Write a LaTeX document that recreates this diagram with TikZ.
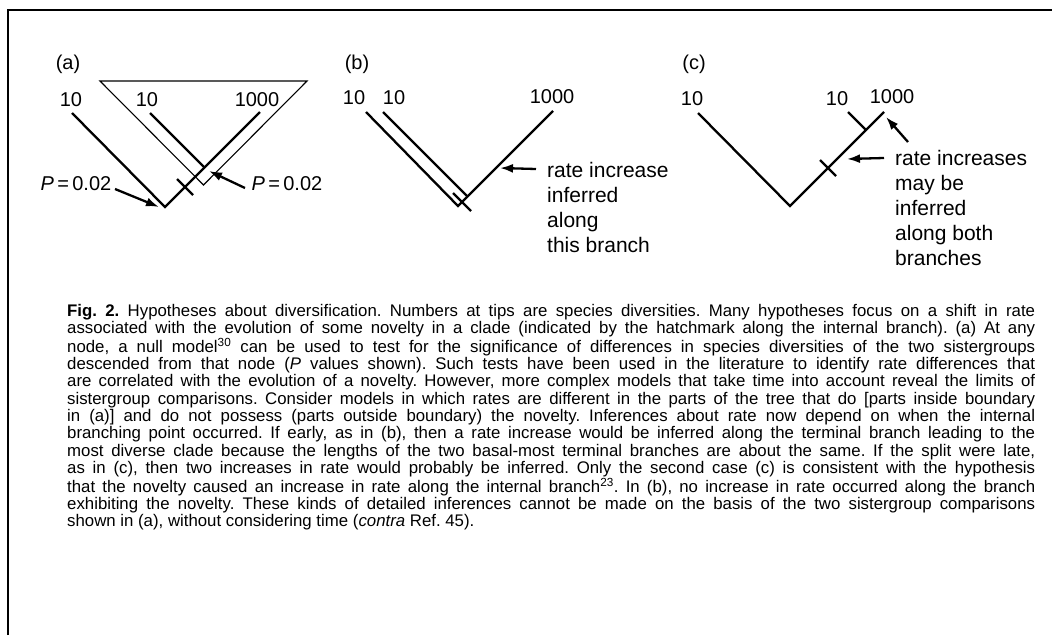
\documentclass[tikz,border=0pt]{standalone}
\usepackage{fontspec}
\setmainfont{Liberation Sans}
\usetikzlibrary{arrows.meta}
\begin{document}
\begin{tikzpicture}[x=1pt,y=-1pt,
  branch/.style={line width=2.3pt},
  thinline/.style={line width=1.1pt},
  hatchmark/.style={line width=2.3pt},
  pointer/.style={line width=2.3pt,-{Latex[length=13pt,width=9pt]}},
  tiplabel/.style={font=\fontsize{20}{22}\selectfont, inner sep=0pt, anchor=base},
  note/.style={font=\fontsize{21}{25}\selectfont, inner sep=0pt, anchor=base west, align=left},
  frameline/.style={line width=1.8pt}]
\useasboundingbox (0,0) rectangle (1052,635);
\draw[frameline] (8,635) |- (1052,10);

% ---------- panel (a)
\node[tiplabel] (pa) at (68,69) {(a)};
\node[tiplabel] (a1) at (71,106) {10};
\node[tiplabel] (a2) at (147,106) {10};
\node[tiplabel] (a3) at (257,106) {1000};
\coordinate (aL) at (72,113);
\coordinate (aM) at (150,113);
\coordinate (aR) at (260,112);
\coordinate (aRoot) at (165,207);
\coordinate (aJ) at (204.5,167.5);
\coordinate (t1) at (100,81);
\coordinate (t2) at (307,81);
\coordinate (t3) at (203.5,185);
\draw[thinline] (t1) -- (t2) -- (t3) -- cycle;
\draw[branch] (aL) -- (aRoot) -- (aR);
\draw[branch] (aM) -- (aJ);
\coordinate (ah1) at (177,179);
\coordinate (ah2) at (193,195);
\draw[hatchmark] (ah1) -- (ah2);
\node[tiplabel] (pL) at (76,190) {\textit{P}\,=\,0.02};
\node[tiplabel] (pR) at (287,190) {\textit{P}\,=\,0.02};
\coordinate (pLs) at (115,189);
\coordinate (pLe) at (159,207);
\coordinate (pRs) at (245,188);
\coordinate (pRe) at (209,171);
\draw[pointer] (pLs) -- (pLe);
\draw[pointer] (pRs) -- (pRe);

% ---------- panel (b)
\node[tiplabel] (pb) at (357,69) {(b)};
\node[tiplabel] (b1) at (354,104) {10};
\node[tiplabel] (b2) at (394,104) {10};
\node[tiplabel] (b3) at (552,103) {1000};
\coordinate (bL) at (366,112);
\coordinate (bM) at (383,112);
\coordinate (bR) at (553,111);
\coordinate (bRoot) at (458,206);
\coordinate (bJ) at (467.5,196.5);
\draw[branch] (bL) -- (bRoot) -- (bR);
\draw[branch] (bM) -- (bJ);
\coordinate (bh1) at (453,193);
\coordinate (bh2) at (471,211);
\draw[hatchmark] (bh1) -- (bh2);
\node[note] (bn) at (547,252) {rate increase\\inferred\\along\\this branch};
\coordinate (bas) at (536,169);
\coordinate (bae) at (500,168);
\draw[pointer] (bas) -- (bae);

% ---------- panel (c)
\node[tiplabel] (pc) at (694,69) {(c)};
\node[tiplabel] (c1) at (692,105) {10};
\node[tiplabel] (c2) at (837,105) {10};
\node[tiplabel] (c3) at (892,103) {1000};
\coordinate (cL) at (698,113);
\coordinate (cM) at (848,112);
\coordinate (cR) at (884,112);
\coordinate (cRoot) at (790,206);
\coordinate (cJ) at (866,130);
\draw[branch] (cL) -- (cRoot) -- (cR);
\draw[branch] (cM) -- (cJ);
\coordinate (ch1) at (820,160);
\coordinate (ch2) at (836,176);
\draw[hatchmark] (ch1) -- (ch2);
\node[note] (cn) at (895,265) {rate increases\\may be\\inferred\\along both\\branches};
\coordinate (cas) at (884,158);
\coordinate (cae) at (847,159);
\coordinate (cbs) at (908,142);
\coordinate (cbe) at (886,117);
\draw[pointer] (cas) -- (cae);
\draw[pointer] (cbs) -- (cbe);

% ---------- caption
\node[anchor=base west, inner sep=0pt, text width=968pt, align=justify,
      font=\fontsize{16.8}{17.3}\selectfont] (cap) at (67,316) {%
\frenchspacing\tolerance=10000\emergencystretch=0pt\hyphenpenalty=10000
\textbf{Fig. 2.} Hypotheses about diversification. Numbers at tips are species diversities. Many hypotheses focus on a shift in rate\linebreak
associated with the evolution of some novelty in a clade (indicated by the hatchmark along the internal branch). (a) At any\linebreak
node, a null model\textsuperscript{30} can be used to test for the significance of differences in species diversities of the two sistergroups\linebreak
descended from that node (\textit{P} values shown). Such tests have been used in the literature to identify rate differences that\linebreak
are correlated with the evolution of a novelty. However, more complex models that take time into account reveal the limits of\linebreak
sistergroup comparisons. Consider models in which rates are different in the parts of the tree that do [parts inside boundary\linebreak
in (a)] and do not possess (parts outside boundary) the novelty. Inferences about rate now depend on when the internal\linebreak
branching point occurred. If early, as in (b), then a rate increase would be inferred along the terminal branch leading to the\linebreak
most diverse clade because the lengths of the two basal-most terminal branches are about the same. If the split were late,\linebreak
as in (c), then two increases in rate would probably be inferred. Only the second case (c) is consistent with the hypothesis\linebreak
that the novelty caused an increase in rate along the internal branch\textsuperscript{23}. In (b), no increase in rate occurred along the branch\linebreak
exhibiting the novelty. These kinds of detailed inferences cannot be made on the basis of the two sistergroup comparisons\linebreak
shown in (a), without considering time (\textit{contra} Ref. 45).};
\end{tikzpicture}
\end{document}
